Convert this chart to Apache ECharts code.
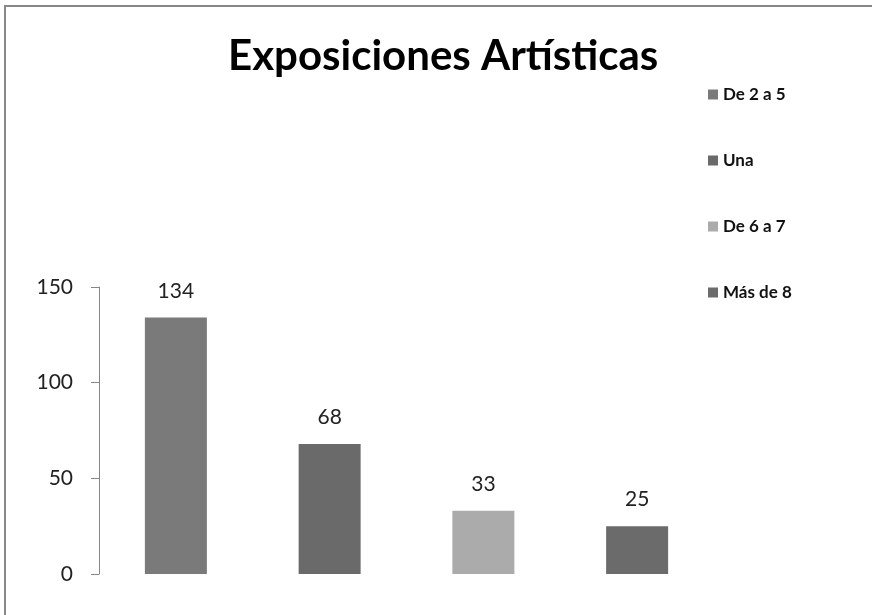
<!DOCTYPE html>
<html>
<head>
<meta charset="utf-8">
<script src="https://cdn.jsdelivr.net/npm/echarts@6/dist/echarts.min.js"></script>
<style>
  html, body { margin: 0; padding: 0; background: #fff; }
  #chart { width: 872px; height: 615px; }
</style>
</head>
<body>
<div id="chart"></div>
<script>
// Number of art exhibitions, grouped by range
const categories = ['De 2 a 5', 'Una', 'De 6 a 7', 'Más de 8'];
const values = [134, 68, 33, 25];
const barColors = ['#7a7a7a', '#6a6a6a', '#ababab', '#6b6b6b'];
const yMin = 0, yMax = 150, yStep = 50;

const FONT = 'Lato, "Open Sans", sans-serif';

// one series per category so each range gets its own legend entry
const series = categories.map((name, i) => ({
  name: name,
  type: 'bar',
  stack: 'total',
  barWidth: 62,
  itemStyle: { color: barColors[i] },
  label: {
    show: true,
    position: 'top',
    distance: 16,
    color: '#222',
    fontFamily: FONT,
    fontSize: 21
  },
  data: categories.map((c, j) => (j === i ? values[i] : '-'))
}));

const chart = echarts.init(document.getElementById('chart'), null, { renderer: 'canvas' });
chart.setOption({
  animation: false,
  backgroundColor: '#fff',
  title: {
    text: 'Exposiciones Artísticas',
    left: 223,
    top: 30,
    textStyle: { fontFamily: FONT, fontWeight: 'bold', fontSize: 42, color: '#000' }
  },
  legend: {
    orient: 'vertical',
    left: 703,
    top: 81,
    itemWidth: 10,
    itemHeight: 10,
    itemGap: 49,
    icon: 'rect',
    textStyle: { fontFamily: FONT, fontSize: 17, fontWeight: 'bold', color: '#111' },
    data: categories
  },
  grid: { left: 99, right: 158, top: 287, bottom: 41 },
  xAxis: {
    type: 'category',
    data: categories,
    show: false
  },
  yAxis: {
    type: 'value',
    min: yMin,
    max: yMax,
    interval: yStep,
    axisLine: { show: true, lineStyle: { color: '#868686', width: 1 } },
    axisTick: { show: true, length: 8, lineStyle: { color: '#868686' } },
    splitLine: { show: false },
    axisLabel: { color: '#222', fontFamily: FONT, fontSize: 21, margin: 26 }
  },
  graphic: [{
    type: 'rect',
    shape: { x: 5, y: 6, width: 900, height: 700 },
    style: { fill: 'none', stroke: '#888', lineWidth: 2 },
    silent: true
  }],
  series: series
});
</script>
</body>
</html>
